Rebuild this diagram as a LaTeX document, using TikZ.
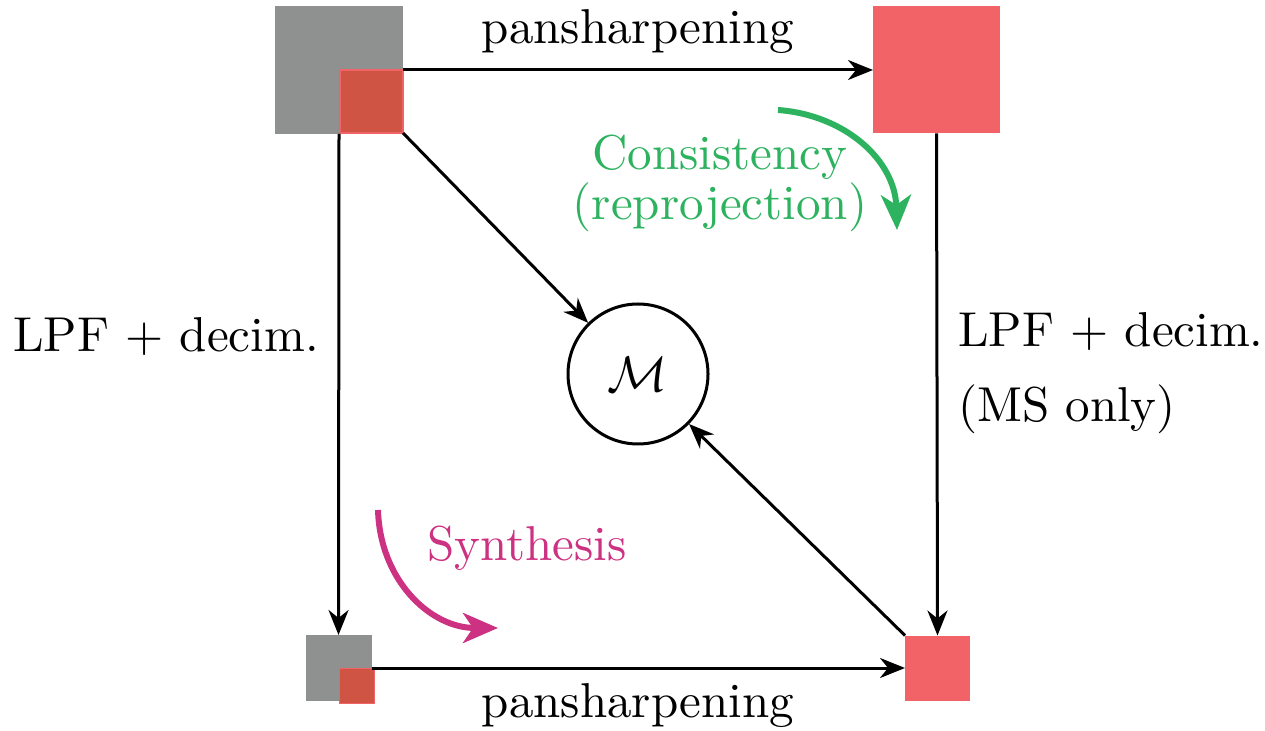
\documentclass[tikz,border=0pt]{standalone}
\usetikzlibrary{arrows.meta}
\definecolor{sqgray}{HTML}{8F9190}
\definecolor{sqred}{HTML}{F26368}
\definecolor{sqdark}{HTML}{D05444}
\definecolor{cgreen}{HTML}{2DB25F}
\definecolor{cmag}{HTML}{CD3282}
\begin{document}
\begin{tikzpicture}[x=0.2pt,y=-0.2pt,
  sq/.style={draw=none,inner sep=0pt,outer sep=0pt,minimum size=#1},
  conn/.style={line width=0.6pt,-{Stealth[length=5pt,width=4pt,inset=1.6pt]}},
  curvy/.style={line width=1.2pt,-{Stealth[length=7pt,width=6pt,inset=2pt]}},
  lbl/.style={inner sep=0pt,font=\fontsize{9.8}{12}\selectfont}]
\useasboundingbox (0,0) rectangle (1265,731);
% squares
\node[sq=25.6pt,fill=sqgray] (tlg) at (339,70) {};
\node[sq=12.6pt,fill=sqdark,draw=sqred,line width=0.3pt] (tlr) at (371.5,101.5) {};
\node[sq=25.4pt,fill=sqred] (tr) at (936.5,70) {};
\node[sq=13.2pt,fill=sqgray] (blg) at (338.5,668) {};
\node[sq=7pt,fill=sqdark,draw=sqred,line width=0.3pt] (blr) at (357,686) {};
\node[sq=13pt,fill=sqred] (br) at (937.5,668) {};
% circle
\node[circle,draw,line width=0.6pt,minimum size=28pt,inner sep=0pt] (M) at (638,374) {$\mathcal{M}$};
% connectors
\draw[conn] (tlg.east) -- (tr.west);
\draw[conn] (tlg.south) -- (blg.north);
\draw[conn] (tr.south) -- (br.north);
\draw[conn] (blg.east) -- (br.west);
\draw[conn] (tlr.south east) -- (M);
\draw[conn] (br.north west) -- (M);
% labels
\node[lbl] (ltop) at (638,32) {pansharpening};
\node[lbl] (lbot) at (638,706) {pansharpening};
\node[lbl] (lleft) at (166,337) {LPF + decim.};
\node[lbl,anchor=west,align=left,font=\fontsize{9.8}{15}\selectfont] (lright) at (957,373) {LPF + decim.\\(MS only)};
\node[lbl,text=cgreen,align=center,font=\fontsize{9.8}{10}\selectfont] (lcons) at (720,183) {Consistency\\(reprojection)};
\node[lbl,text=cmag] (lsyn) at (527,548) {Synthesis};
% curved arrows
\coordinate (gs) at (778,110);
\coordinate (ge) at (897,230);
\draw[curvy,cgreen] (gs) .. controls (845,115) and (895,160) .. (ge);
\coordinate (ms) at (378,510);
\coordinate (me) at (498,628);
\draw[curvy,cmag] (ms) .. controls (380,580) and (430,628) .. (me);
\end{tikzpicture}
\end{document}
